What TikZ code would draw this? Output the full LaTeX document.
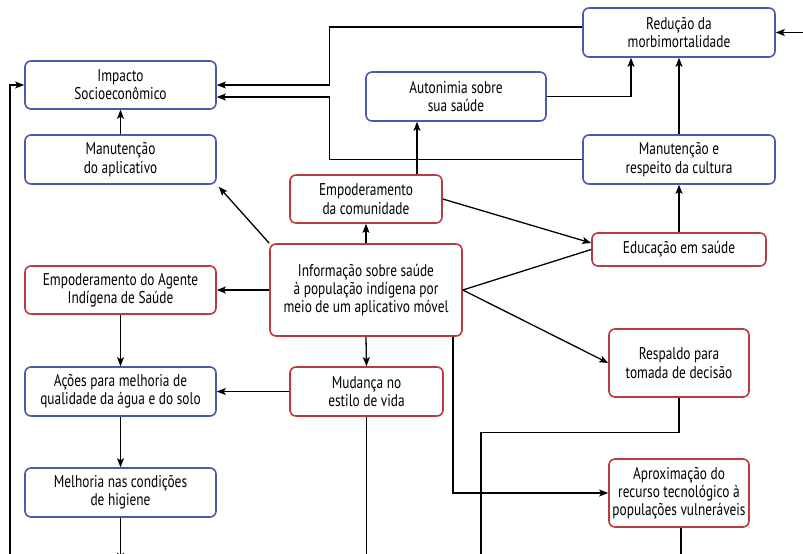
\documentclass[tikz,border=0pt]{standalone}
\usepackage{fontspec}
\setmainfont[FakeStretch=0.785]{PT Sans}
\usetikzlibrary{arrows.meta,calc}
\definecolor{boxblue}{HTML}{4A5AA6}
\definecolor{boxred}{HTML}{BC3A3F}
\tikzset{
  card/.style={draw, line width=1.6pt, rounded corners=6pt, fill=white,
    align=center, inner sep=0pt, font=\fontsize{17}{18.3}\selectfont},
  bluecard/.style={card, draw=boxblue},
  redcard/.style={card, draw=boxred},
  link/.style={line width=1.3pt, black},
  arr/.style={link, -{Stealth[length=9pt,width=7pt,inset=2pt]}},
}
\begin{document}
\begin{tikzpicture}[x=1pt,y=-1pt]
\useasboundingbox (0,0) rectangle (803,554);
\clip (0,0) rectangle (803,554);

% boxes
\node[bluecard, minimum width=191pt, minimum height=48pt] (imp) at (120.5,85) {Impacto\\Socioeconômico};
\node[bluecard, minimum width=191pt, minimum height=49pt] (mapp) at (120.5,159.5) {Manutenção\\do aplicativo};
\node[bluecard, minimum width=192pt, minimum height=49pt] (red) at (679,32.5) {Redução da\\morbimortalidade};
\node[bluecard, minimum width=180pt, minimum height=49pt] (aut) at (456,96.5) {Autonimia sobre\\sua saúde};
\node[bluecard, minimum width=192pt, minimum height=49pt] (mcult) at (679,159.5) {Manutenção e\\respeito da cultura};
\node[redcard, minimum width=152pt, minimum height=48pt] (ecom) at (366,199) {Empoderamento\\da comunidade};
\node[redcard, minimum width=192pt, minimum height=92pt] (info) at (366,290) {Informação sobre saúde\\à população indígena por\\meio de um aplicativo móvel};
\node[redcard, minimum width=174pt, minimum height=33pt] (edu) at (679,249.5) {Educação em saúde};
\node[redcard, minimum width=140pt, minimum height=68pt] (resp) at (679,363) {Respaldo para\\tomada de decisão};
\node[redcard, minimum width=191pt, minimum height=48pt] (eag) at (120.5,290) {Empoderamento do Agente\\Indígena de Saúde};
\node[bluecard, minimum width=191pt, minimum height=49pt] (acoes) at (120.5,391.5) {Ações para melhoria de\\qualidade da água e do solo};
\node[redcard, minimum width=153pt, minimum height=49pt] (mud) at (366.5,391.5) {Mudança no\\estilo de vida};
\node[bluecard, minimum width=191pt, minimum height=49pt] (melh) at (120.5,492.5) {Melhoria nas condições\\de higiene};
\node[redcard, minimum width=140pt, minimum height=68pt] (aprox) at (679,493) {Aproximação do\\recurso tecnológico à\\populações vulneráveis};

% free ends beyond the frame
\coordinate (leftin) at (10,570);
\coordinate (rightin) at (820,32.5);

% connectors
\draw[arr] (leftin) |- (imp.west);
\draw[arr] (rightin) -- (red.east);
\draw[arr] ([yshift=5.5pt]red.west) -- ++(-253,0) |- (imp.east);
\draw[arr] (mcult.west) -- ++(-253,0) |- ([yshift=-12pt]imp.east);
\draw[arr] (mapp.north) -- (imp.south);
\draw[arr] (aut.east) -| ([xshift=-48pt]red.south);
\draw[arr] (mcult.north) -- (red.south);
\draw[arr] (edu.north) -- (mcult.south);
\draw[arr] ([xshift=51pt]ecom.north) -- ([xshift=51pt]ecom.north |- aut.south);
\draw[arr] (info.north) -- (ecom.south);
\draw[arr] (info.north west) -- ([shift={(2pt,-2pt)}]mapp.south east);
\draw[arr] (info.west) -- (eag.east);
\draw[arr] (info.south) -- (mud.north);
\draw[arr] (mud.west) -- (acoes.east);
\draw[link] (mud.south) -- ++(0,160);
\draw[arr] (ecom.east) -- ([yshift=6.5pt]edu.west);
\draw[link] (info.east) -- (edu.west);
\draw[arr] (info.east) -- (resp.west);
\draw[arr] ([xshift=87pt]info.south) |- (aprox.west);
\draw[link] (resp.south) -- ++(0,35) -| ++(-198,140);
\draw[link] ([xshift=2pt]aprox.south) -- ++(0,40);
\draw[arr] (eag.south) -- (acoes.north);
\draw[arr] (acoes.south) -- (melh.north);
\draw[arr] (melh.south) -- ++(0,44);
\end{tikzpicture}
\end{document}
